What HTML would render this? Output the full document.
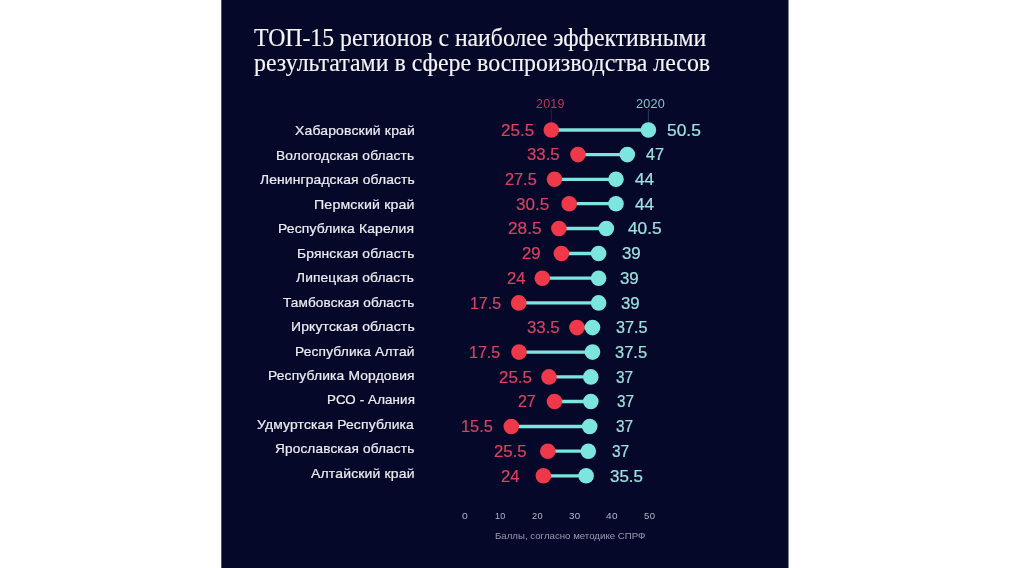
<!DOCTYPE html>
<html lang="ru"><head><meta charset="utf-8"><title>ТОП-15 регионов</title>
<style>
html,body{margin:0;padding:0;}
body{width:1010px;height:568px;overflow:hidden;background:#ffffff;position:relative;}
#p{position:absolute;left:0;top:0;width:1010px;height:568px;background:linear-gradient(to right,#ffffff 220.8px,#06082a 221.8px,#06082a 788px,#ffffff 789px);}
span{position:absolute;white-space:nowrap;line-height:1.2;transform-origin:0 0;}
.t{font-family:"Liberation Serif", "Times New Roman", serif;font-size:25px;color:#f4f4f6;-webkit-text-stroke:0.15px #f4f4f6;}
.l{font-family:"Liberation Sans", Arial, sans-serif;font-size:13.2px;color:#ececf0;-webkit-text-stroke:0.22px #ececf0;}
.r{font-family:"Liberation Sans", Arial, sans-serif;font-size:16.3px;color:#d64360;-webkit-text-stroke:0.2px #d64360;}
.c{font-family:"Liberation Sans", Arial, sans-serif;font-size:16.3px;color:#9ce3df;-webkit-text-stroke:0.2px #9ce3df;}
.g{font-family:"Liberation Sans", Arial, sans-serif;}
.a{font-family:"Liberation Sans", Arial, sans-serif;}
svg{position:absolute;left:0;top:0;}
#c{position:absolute;left:0;top:0;width:1010px;height:568px;filter:blur(0.45px);}
</style></head>
<body>
<div id="p"></div>
<div id="c">
<svg width="1010" height="568" viewBox="0 0 1010 568">
<line x1="551.3" y1="109" x2="551.3" y2="123" stroke="#3a1838" stroke-width="1"/>
<line x1="648.4" y1="109" x2="648.4" y2="123" stroke="#24405a" stroke-width="1"/>
<line x1="551.3" y1="130.0" x2="648.4" y2="130.0" stroke="#7be5de" stroke-width="3.3"/>
<circle cx="551.3" cy="130.0" r="7.8" fill="#f0384b"/>
<circle cx="648.4" cy="130.0" r="7.8" fill="#7be5de"/>
<line x1="578.0" y1="154.6" x2="627.3" y2="154.6" stroke="#7be5de" stroke-width="3.3"/>
<circle cx="578.0" cy="154.6" r="7.8" fill="#f0384b"/>
<circle cx="627.3" cy="154.6" r="7.8" fill="#7be5de"/>
<line x1="554.5" y1="179.3" x2="616.0" y2="179.3" stroke="#7be5de" stroke-width="3.3"/>
<circle cx="554.5" cy="179.3" r="7.8" fill="#f0384b"/>
<circle cx="616.0" cy="179.3" r="7.8" fill="#7be5de"/>
<line x1="569.2" y1="203.7" x2="616.0" y2="203.7" stroke="#7be5de" stroke-width="3.3"/>
<circle cx="569.2" cy="203.7" r="7.8" fill="#f0384b"/>
<circle cx="616.0" cy="203.7" r="7.8" fill="#7be5de"/>
<line x1="558.9" y1="228.5" x2="606.3" y2="228.5" stroke="#7be5de" stroke-width="3.3"/>
<circle cx="558.9" cy="228.5" r="7.8" fill="#f0384b"/>
<circle cx="606.3" cy="228.5" r="7.8" fill="#7be5de"/>
<line x1="561.4" y1="253.5" x2="598.6" y2="253.5" stroke="#7be5de" stroke-width="3.3"/>
<circle cx="561.4" cy="253.5" r="7.8" fill="#f0384b"/>
<circle cx="598.6" cy="253.5" r="7.8" fill="#7be5de"/>
<line x1="542.3" y1="278.2" x2="598.6" y2="278.2" stroke="#7be5de" stroke-width="3.3"/>
<circle cx="542.3" cy="278.2" r="7.8" fill="#f0384b"/>
<circle cx="598.6" cy="278.2" r="7.8" fill="#7be5de"/>
<line x1="518.7" y1="302.9" x2="598.6" y2="302.9" stroke="#7be5de" stroke-width="3.3"/>
<circle cx="518.7" cy="302.9" r="7.8" fill="#f0384b"/>
<circle cx="598.6" cy="302.9" r="7.8" fill="#7be5de"/>
<line x1="577.0" y1="327.6" x2="592.5" y2="327.6" stroke="#7be5de" stroke-width="3.3"/>
<circle cx="577.0" cy="327.6" r="7.8" fill="#f0384b"/>
<circle cx="592.5" cy="327.6" r="7.8" fill="#7be5de"/>
<line x1="519.0" y1="352.1" x2="592.5" y2="352.1" stroke="#7be5de" stroke-width="3.3"/>
<circle cx="519.0" cy="352.1" r="7.8" fill="#f0384b"/>
<circle cx="592.5" cy="352.1" r="7.8" fill="#7be5de"/>
<line x1="549.0" y1="376.9" x2="590.8" y2="376.9" stroke="#7be5de" stroke-width="3.3"/>
<circle cx="549.0" cy="376.9" r="7.8" fill="#f0384b"/>
<circle cx="590.8" cy="376.9" r="7.8" fill="#7be5de"/>
<line x1="554.5" y1="401.5" x2="590.8" y2="401.5" stroke="#7be5de" stroke-width="3.3"/>
<circle cx="554.5" cy="401.5" r="7.8" fill="#f0384b"/>
<circle cx="590.8" cy="401.5" r="7.8" fill="#7be5de"/>
<line x1="511.3" y1="426.5" x2="589.7" y2="426.5" stroke="#7be5de" stroke-width="3.3"/>
<circle cx="511.3" cy="426.5" r="7.8" fill="#f0384b"/>
<circle cx="589.7" cy="426.5" r="7.8" fill="#7be5de"/>
<line x1="547.8" y1="451.2" x2="588.3" y2="451.2" stroke="#7be5de" stroke-width="3.3"/>
<circle cx="547.8" cy="451.2" r="7.8" fill="#f0384b"/>
<circle cx="588.3" cy="451.2" r="7.8" fill="#7be5de"/>
<line x1="543.4" y1="475.8" x2="586.1" y2="475.8" stroke="#7be5de" stroke-width="3.3"/>
<circle cx="543.4" cy="475.8" r="7.8" fill="#f0384b"/>
<circle cx="586.1" cy="475.8" r="7.8" fill="#7be5de"/>
</svg>
<span class="t" style="left:254.36px;top:23px;transform:scaleX(0.9492);">ТОП-15 регионов с наиболее эффективными</span>
<span class="t" style="left:254.40px;top:48px;transform:scaleX(0.9549);">результатами в сфере воспроизводства лесов</span>
<span class="l" style="left:294.68px;top:123px;transform:scaleX(1.0598);letter-spacing:0.15px;">Хабаровский край</span>
<span class="l" style="left:276.06px;top:148px;transform:scaleX(1.0423);letter-spacing:0.15px;">Вологодская область</span>
<span class="l" style="left:259.65px;top:172px;transform:scaleX(1.0475);letter-spacing:0.15px;">Ленинградская область</span>
<span class="l" style="left:314.04px;top:197px;transform:scaleX(1.0741);letter-spacing:0.15px;">Пермский край</span>
<span class="l" style="left:278.45px;top:221px;transform:scaleX(1.0539);letter-spacing:0.15px;">Республика Карелия</span>
<span class="l" style="left:296.85px;top:246px;transform:scaleX(1.0473);letter-spacing:0.15px;">Брянская область</span>
<span class="l" style="left:296.25px;top:270px;transform:scaleX(1.0410);letter-spacing:0.15px;">Липецкая область</span>
<span class="l" style="left:282.88px;top:295px;transform:scaleX(1.0296);letter-spacing:0.15px;">Тамбовская область</span>
<span class="l" style="left:290.75px;top:319px;transform:scaleX(1.0547);letter-spacing:0.15px;">Иркутская область</span>
<span class="l" style="left:295.26px;top:344px;transform:scaleX(1.0431);letter-spacing:0.15px;">Республика Алтай</span>
<span class="l" style="left:267.95px;top:368px;transform:scaleX(1.0480);letter-spacing:0.15px;">Республика Мордовия</span>
<span class="l" style="left:326.60px;top:392px;transform:scaleX(1.0089);letter-spacing:0.15px;">РСО - Алания</span>
<span class="l" style="left:257.09px;top:417px;transform:scaleX(1.0535);letter-spacing:0.15px;">Удмуртская Республика</span>
<span class="l" style="left:275.16px;top:441px;transform:scaleX(1.0313);letter-spacing:0.15px;">Ярославская область</span>
<span class="l" style="left:311.03px;top:466px;transform:scaleX(1.0609);letter-spacing:0.15px;">Алтайский край</span>
<span class="r" style="left:501.25px;top:121px;transform:scaleX(1.0468);">25.5</span>
<span class="c" style="left:666.91px;top:121px;transform:scaleX(1.0674);">50.5</span>
<span class="r" style="left:527.05px;top:145px;transform:scaleX(1.0306);">33.5</span>
<span class="c" style="left:646.32px;top:145px;transform:scaleX(0.9913);">47</span>
<span class="r" style="left:505.19px;top:170px;transform:scaleX(1.0004);">27.5</span>
<span class="c" style="left:635.19px;top:170px;transform:scaleX(1.0538);">44</span>
<span class="r" style="left:515.94px;top:195px;transform:scaleX(1.0472);">30.5</span>
<span class="c" style="left:635.19px;top:195px;transform:scaleX(1.0538);">44</span>
<span class="r" style="left:507.94px;top:219px;transform:scaleX(1.0567);">28.5</span>
<span class="c" style="left:628.29px;top:219px;transform:scaleX(1.0617);">40.5</span>
<span class="r" style="left:522.37px;top:244px;transform:scaleX(1.0285);">29</span>
<span class="c" style="left:621.95px;top:244px;transform:scaleX(1.0353);">39</span>
<span class="r" style="left:507.17px;top:269px;transform:scaleX(1.0207);">24</span>
<span class="c" style="left:620.05px;top:269px;transform:scaleX(1.0353);">39</span>
<span class="r" style="left:470.37px;top:294px;transform:scaleX(0.9783);">17.5</span>
<span class="c" style="left:621.45px;top:294px;transform:scaleX(1.0293);">39</span>
<span class="r" style="left:527.05px;top:318px;transform:scaleX(1.0306);">33.5</span>
<span class="c" style="left:615.88px;top:318px;transform:scaleX(0.9942);">37.5</span>
<span class="r" style="left:469.36px;top:343px;transform:scaleX(0.9850);">17.5</span>
<span class="c" style="left:614.57px;top:343px;transform:scaleX(1.0107);">37.5</span>
<span class="r" style="left:498.76px;top:368px;transform:scaleX(1.0401);">25.5</span>
<span class="c" style="left:615.92px;top:368px;transform:scaleX(0.9444);">37</span>
<span class="r" style="left:518.31px;top:392px;transform:scaleX(0.9742);">27</span>
<span class="c" style="left:616.83px;top:392px;transform:scaleX(0.9323);">37</span>
<span class="r" style="left:460.94px;top:417px;transform:scaleX(1.0052);">15.5</span>
<span class="c" style="left:615.92px;top:417px;transform:scaleX(0.9444);">37</span>
<span class="r" style="left:494.36px;top:442px;transform:scaleX(1.0302);">25.5</span>
<span class="c" style="left:612.32px;top:442px;transform:scaleX(0.9505);">37</span>
<span class="r" style="left:501.27px;top:467px;transform:scaleX(1.0267);">24</span>
<span class="c" style="left:610.34px;top:467px;transform:scaleX(1.0405);">35.5</span>
<span class="g" style="left:535.75px;top:97px;transform:scaleX(1.0129);letter-spacing:0.2px;font-size:12.4px;color:#b43a5a;">2019</span>
<span class="g" style="left:635.94px;top:97px;transform:scaleX(1.0233);letter-spacing:0.2px;font-size:12.4px;color:#84c4c8;">2020</span>
<span class="a" style="left:462.13px;top:511px;transform:scaleX(1.2024);letter-spacing:0.3px;font-size:8.6px;color:#b4b4c8;">0</span>
<span class="a" style="left:495.42px;top:511px;transform:scaleX(1.0529);letter-spacing:0.3px;font-size:8.6px;color:#b4b4c8;">10</span>
<span class="a" style="left:532.25px;top:511px;transform:scaleX(1.0813);letter-spacing:0.3px;font-size:8.6px;color:#b4b4c8;">20</span>
<span class="a" style="left:569.41px;top:511px;transform:scaleX(1.1396);letter-spacing:0.3px;font-size:8.6px;color:#b4b4c8;">30</span>
<span class="a" style="left:606.37px;top:511px;transform:scaleX(1.1647);letter-spacing:0.3px;font-size:8.6px;color:#b4b4c8;">40</span>
<span class="a" style="left:643.96px;top:511px;transform:scaleX(1.1126);letter-spacing:0.3px;font-size:8.6px;color:#b4b4c8;">50</span>
<span class="a" style="left:495.01px;top:531px;transform:scaleX(1.0518);font-size:9.2px;color:#9a9ab4;">Баллы, согласно методике СПРФ</span>
</div>
</body></html>
